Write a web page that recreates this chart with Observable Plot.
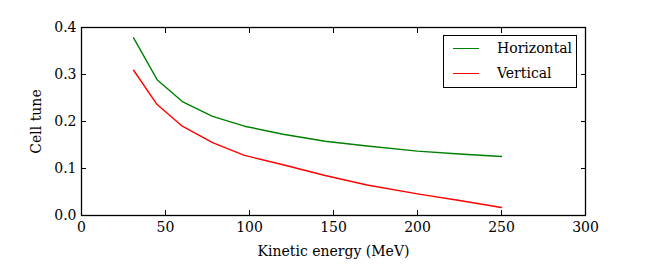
<!DOCTYPE html>
<html>
<head>
<meta charset="utf-8">
<script src="https://cdn.jsdelivr.net/npm/d3@7"></script>
<script src="https://cdn.jsdelivr.net/npm/@observablehq/plot@0.6"></script>
<style>
  html, body { margin: 0; padding: 0; background: #fff; }
  #wrap { position: relative; width: 650px; height: 270px; font-family: "DejaVu Serif", serif; }
  #legend { position: absolute; left: 443px; top: 35px; width: 132px; height: 51px; border: 1.3px solid #000; background: #fff; font-size: 14px; }
  .row { position: absolute; left: 0; height: 20px; display: flex; align-items: center; }
  .sw { width: 26px; height: 0; border-top: 1.4px solid; margin-left: 9px; margin-right: 18px; }
</style>
</head>
<body>
<div id="wrap"></div>
<script>
const energy = [31, 45, 60, 78, 97, 120, 145, 170, 200, 225, 250];
const horizontal = [0.378, 0.289, 0.2425, 0.211, 0.19, 0.173, 0.158, 0.148, 0.137, 0.131, 0.1255];
const vertical = [0.309, 0.236, 0.19, 0.155, 0.128, 0.108, 0.085, 0.065, 0.046, 0.032, 0.017];
const seriesNames = ["Horizontal", "Vertical"];
const seriesColors = ["#008000", "#ff0000"];
const xTicks = [0, 50, 100, 150, 200, 250, 300];
const yTicks = [0.0, 0.1, 0.2, 0.3, 0.4];

const rows = [];
energy.forEach((e, i) => {
  rows.push({series: seriesNames[0], energy: e, tune: horizontal[i]});
  rows.push({series: seriesNames[1], energy: e, tune: vertical[i]});
});

const chart = Plot.plot({
  width: 650,
  height: 270,
  marginLeft: 81,
  marginRight: 65,
  marginTop: 27,
  marginBottom: 55,
  style: {fontFamily: "'DejaVu Serif', serif", fontSize: "14px", color: "#000", background: "#fff"},
  x: {domain: [0, 300]},
  y: {domain: [0, 0.4]},
  color: {domain: seriesNames, range: seriesColors},
  marks: [
    Plot.line(rows, {x: "energy", y: "tune", z: "series", stroke: "series", strokeWidth: 1.4}),
    Plot.axisX({anchor: "bottom", ticks: xTicks, tickSize: 0, tickPadding: 7, tickFormat: d => String(d), fontSize: 14, fill: "#000",
      label: "Kinetic energy (MeV)", labelAnchor: "center", labelOffset: 40, labelArrow: "none"}),
    Plot.axisX({anchor: "bottom", ticks: xTicks, tickSize: -5, tickFormat: () => "", label: null}),
    Plot.axisX({anchor: "top", ticks: xTicks, tickSize: -5, tickFormat: () => "", label: null}),
    Plot.axisY({anchor: "left", ticks: yTicks, tickSize: 0, tickPadding: 5, tickFormat: d3.format(".1f"), fontSize: 14, fill: "#000",
      label: "Cell tune", labelAnchor: "center", labelOffset: 50, labelArrow: "none"}),
    Plot.axisY({anchor: "left", ticks: yTicks, tickSize: -5, tickFormat: () => "", label: null}),
    Plot.axisY({anchor: "right", ticks: yTicks, tickSize: -5, tickFormat: () => "", label: null}),
    Plot.frame({stroke: "#000", strokeWidth: 1.3})
  ]
});

const wrap = document.getElementById("wrap");
wrap.appendChild(chart);

const legend = document.createElement("div");
legend.id = "legend";
seriesNames.forEach((name, i) => {
  const row = document.createElement("div");
  row.className = "row";
  row.style.top = (2 + i * 25) + "px";
  const sw = document.createElement("span");
  sw.className = "sw";
  sw.style.borderTopColor = seriesColors[i];
  const label = document.createElement("span");
  label.textContent = name;
  row.appendChild(sw);
  row.appendChild(label);
  legend.appendChild(row);
});
wrap.appendChild(legend);
</script>
</body>
</html>
